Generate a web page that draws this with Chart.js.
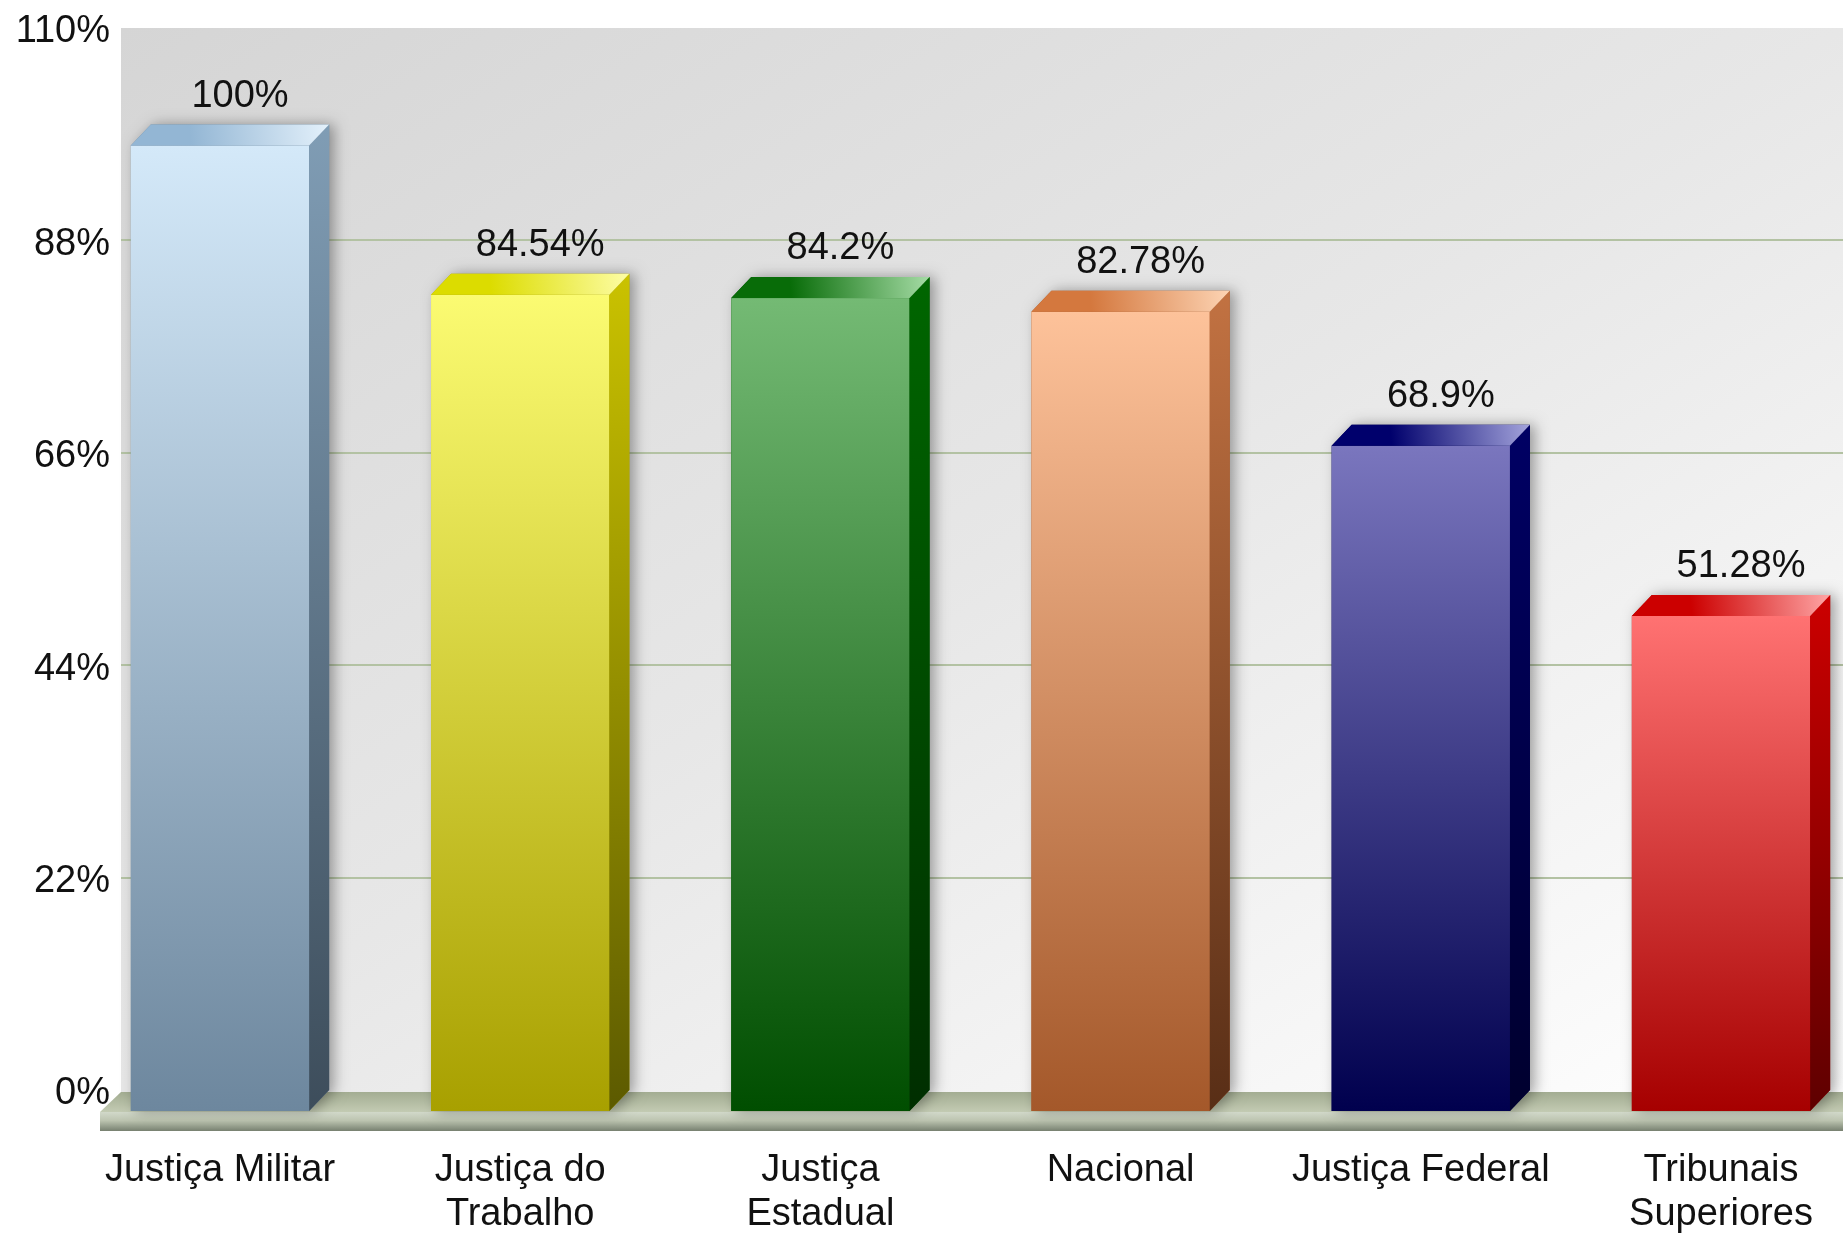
<!DOCTYPE html>
<html>
  <head>
    <meta charset='utf-8'>
    <title>Justiça</title>
    <style>
      body { margin: 0; background: #fff; }
      #wrap { width: 1843px; height: 1234px; }
    </style>
    <script src='https://cdn.jsdelivr.net/npm/chart.js@4.4.1/dist/chart.umd.min.js'></script>
  </head>
  <body>
    <div id='wrap'><canvas id='bars' width='1843' height='1234'></canvas></div>

    <script>
    var categories = [
      'Justiça Militar', ['Justiça do', 'Trabalho'], ['Justiça', 'Estadual'],
      'Nacional', 'Justiça Federal', ['Tribunais', 'Superiores']
    ];
    var values = [100, 84.54, 84.2, 82.78, 68.9, 51.28];
    var yTicks = [0, 22, 44, 66, 88, 110];

    // front top, front bottom, side top, side bottom, lid left, lid right
    var palette = [
      ['#d4e9f9', '#6d879e', '#809db5', '#3d4d5b', '#93b6d4', '#e4f1fb'],
      ['#fbfb72', '#a8a000', '#cac200', '#5c5a00', '#dcdc00', '#fdfda6'],
      ['#74ba74', '#004e00', '#006600', '#002e00', '#086c08', '#a6dca6'],
      ['#fdc29a', '#a4582a', '#c27242', '#582e16', '#d4783e', '#fdd4b4'],
      ['#7a76be', '#00004e', '#000064', '#00002e', '#00006c', '#a4a4dc'],
      ['#ff7272', '#a60000', '#cc0000', '#5e0000', '#cc0000', '#ffa6a6']
    ];

    var depthX = 20, depthY = 21, plotLeft = 121;
    var font = '"Liberation Sans", Arial, sans-serif';

    var backdrop = {
      id: 'backdrop',
      beforeDraw: function (chart) {
        var ctx = chart.ctx, y = chart.scales.y, W = chart.width;
        var top = chart.chartArea.top, base = y.getPixelForValue(0);
        ctx.save();
        ctx.fillStyle = '#fff';
        ctx.fillRect(0, 0, W, chart.height);
        var w = W - plotLeft, h = base - top;
        var g = ctx.createLinearGradient(plotLeft, top, plotLeft + 0.894 * h, top + 0.894 * w);
        g.addColorStop(0, '#d5d5d5');
        g.addColorStop(0.5, '#e7e7e7');
        g.addColorStop(1, '#ffffff');
        ctx.fillStyle = g;
        ctx.fillRect(plotLeft, top, w, h + 4);
        ctx.strokeStyle = '#b3c2a3';
        ctx.lineWidth = 2;
        y.ticks.forEach(function (t) {
          if (t.value <= 0 || t.value >= 110) return;
          var py = Math.round(y.getPixelForValue(t.value));
          ctx.beginPath();
          ctx.moveTo(plotLeft, py);
          ctx.lineTo(W, py);
          ctx.stroke();
        });
        ctx.restore();
      }
    };

    var bars3d = {
      id: 'bars3d',
      afterDatasetsDraw: function (chart) {
        var ctx = chart.ctx, y = chart.scales.y, W = chart.width;
        var base = y.getPixelForValue(0);
        ctx.save();

        // floor
        var fTop = base + 2, fFront = base + depthY + 1, fBot = fFront + 19;
        var g = ctx.createLinearGradient(0, fTop, 0, fFront);
        g.addColorStop(0, '#a3ad92');
        g.addColorStop(1, '#c3cbb3');
        ctx.fillStyle = g;
        ctx.beginPath();
        ctx.moveTo(plotLeft, fTop);
        ctx.lineTo(W, fTop);
        ctx.lineTo(W, fFront);
        ctx.lineTo(plotLeft - depthX - 1, fFront);
        ctx.closePath();
        ctx.fill();
        g = ctx.createLinearGradient(0, fFront, 0, fBot);
        g.addColorStop(0, '#d2d9ca');
        g.addColorStop(0.45, '#bcc4b0');
        g.addColorStop(1, '#778070');
        ctx.fillStyle = g;
        ctx.fillRect(plotLeft - depthX - 1, fFront, W, fBot - fFront);

        var meta = chart.getDatasetMeta(0);
        meta.data.forEach(function (bar, i) {
          var c = palette[i];
          var x0 = bar.x - bar.width / 2, x1 = bar.x + bar.width / 2;
          var yT = bar.y + depthY, yB = base + depthY;

          // silhouette with soft shadow
          ctx.save();
          ctx.shadowColor = 'rgba(0,0,0,0.35)';
          ctx.shadowBlur = 14;
          ctx.shadowOffsetX = 5;
          ctx.fillStyle = c[1];
          ctx.beginPath();
          ctx.moveTo(x0, yB);
          ctx.lineTo(x0, yT);
          ctx.lineTo(x0 + depthX, yT - depthY);
          ctx.lineTo(x1 + depthX, yT - depthY);
          ctx.lineTo(x1 + depthX, yB - depthY);
          ctx.lineTo(x1, yB);
          ctx.closePath();
          ctx.fill();
          ctx.restore();

          // front
          g = ctx.createLinearGradient(0, yT, 0, yB);
          g.addColorStop(0, c[0]);
          g.addColorStop(1, c[1]);
          ctx.fillStyle = g;
          ctx.fillRect(x0, yT, x1 - x0, yB - yT);

          // side
          g = ctx.createLinearGradient(0, yT - depthY, 0, yB);
          g.addColorStop(0, c[2]);
          g.addColorStop(1, c[3]);
          ctx.fillStyle = g;
          ctx.beginPath();
          ctx.moveTo(x1, yT);
          ctx.lineTo(x1 + depthX, yT - depthY);
          ctx.lineTo(x1 + depthX, yB - depthY);
          ctx.lineTo(x1, yB);
          ctx.closePath();
          ctx.fill();

          // lid
          g = ctx.createLinearGradient(x0, yT, x1 + depthX, yT - depthY);
          g.addColorStop(0, c[4]);
          g.addColorStop(0.3, c[4]);
          g.addColorStop(1, c[5]);
          ctx.fillStyle = g;
          ctx.beginPath();
          ctx.moveTo(x0, yT);
          ctx.lineTo(x0 + depthX, yT - depthY);
          ctx.lineTo(x1 + depthX, yT - depthY);
          ctx.lineTo(x1, yT);
          ctx.closePath();
          ctx.fill();

          // value label
          ctx.fillStyle = '#111';
          ctx.font = '38px ' + font;
          ctx.textAlign = 'center';
          ctx.textBaseline = 'alphabetic';
          ctx.fillText(values[i] + '%', bar.x + depthX, bar.y - 18);
        });
        ctx.restore();
      }
    };

    new Chart(document.getElementById('bars'), {
      type: 'bar',
      data: {
        labels: categories,
        datasets: [{
          data: values,
          backgroundColor: 'rgba(0,0,0,0)',
          borderWidth: 0,
          categoryPercentage: 1,
          barPercentage: 0.594
        }]
      },
      options: {
        responsive: false,
        animation: false,
        layout: { padding: { top: 28, right: 122, bottom: 0, left: 0 } },
        plugins: { legend: { display: false }, tooltip: { enabled: false } },
        scales: {
          x: {
            offset: false,
            grid: { display: false, drawTicks: false },
            border: { display: false },
            afterFit: function (s) {
              s.height = 144;
              s.paddingLeft = 0;
              s.paddingRight = 0;
            },
            ticks: {
              autoSkip: false,
              maxRotation: 0,
              padding: 58,
              color: '#111',
              font: { family: font, size: 38, lineHeight: 1.16 }
            }
          },
          y: {
            min: 0,
            max: 110,
            afterFit: function (s) {
              s.width = 220;
              s.paddingTop = 0;
              s.paddingBottom = 0;
            },
            afterBuildTicks: function (s) {
              s.ticks = yTicks.map(function (v) { return { value: v }; });
            },
            grid: { display: false, drawTicks: false },
            border: { display: false },
            ticks: {
              padding: 110,
              labelOffset: 4,
              color: '#111',
              font: { family: font, size: 38 },
              callback: function (v) { return v + '%'; }
            }
          }
        }
      },
      plugins: [backdrop, bars3d]
    });
    </script>
  </body>
</html>
